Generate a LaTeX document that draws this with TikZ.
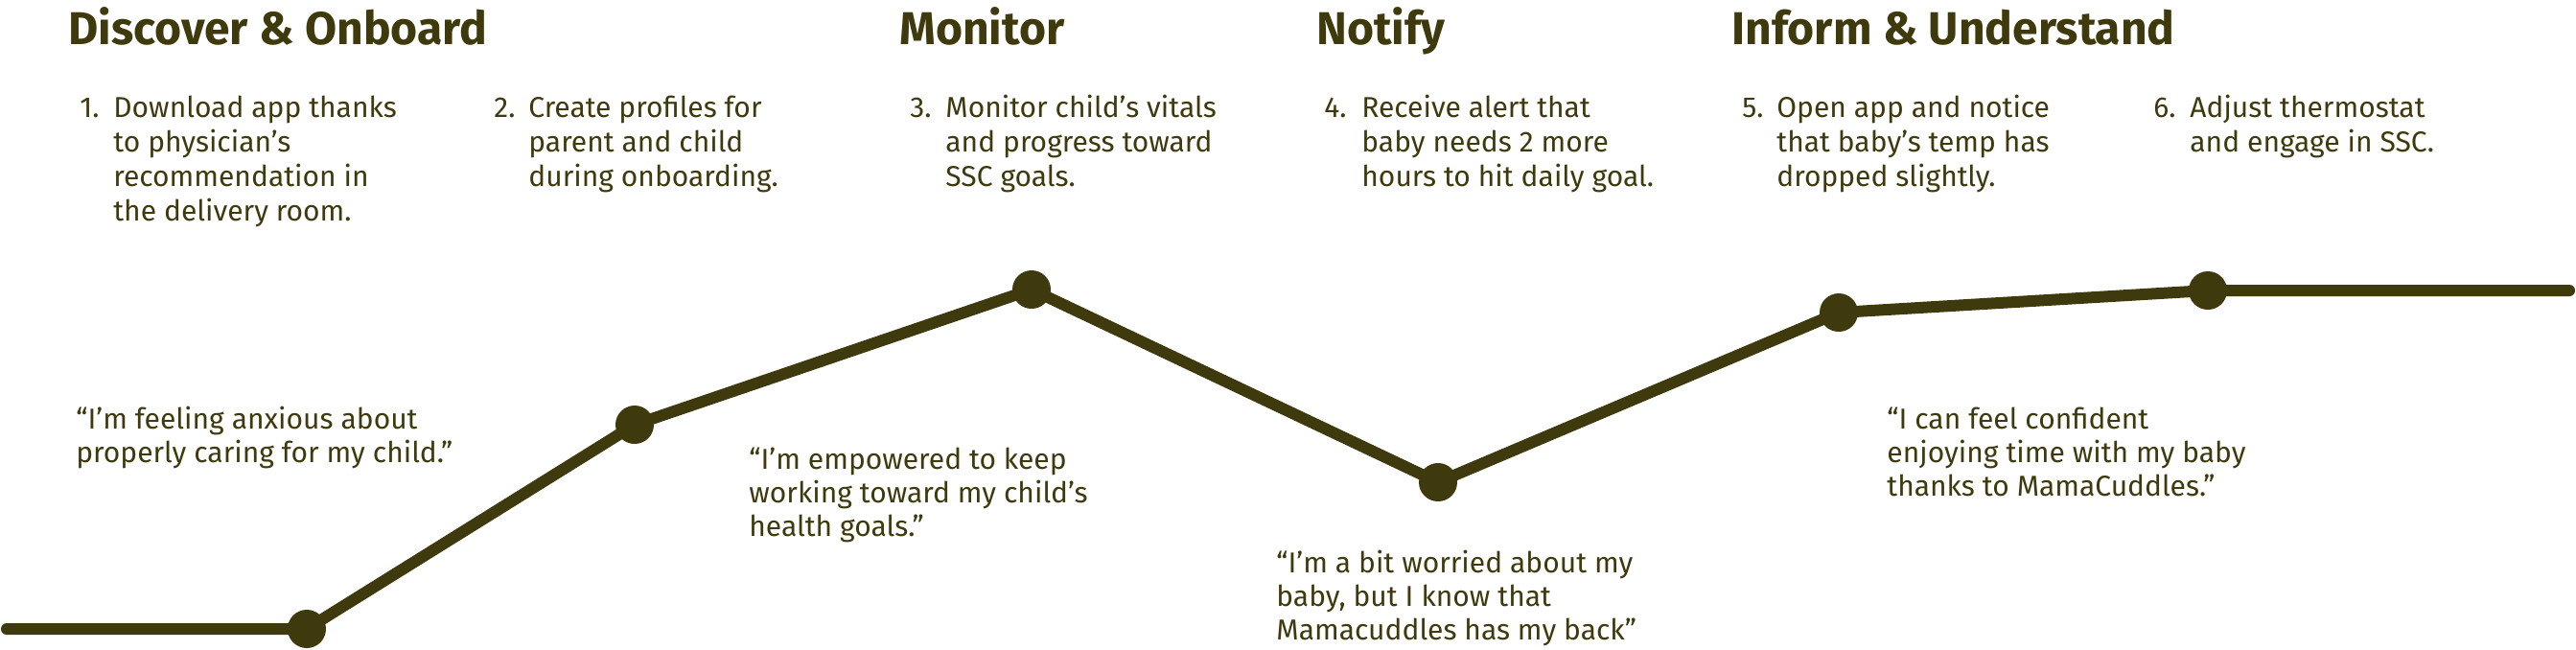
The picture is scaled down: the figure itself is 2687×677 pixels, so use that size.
\documentclass[tikz,border=0pt]{standalone}
\usepackage{fontspec}
\setmainfont{Fira Sans}
\definecolor{journey}{RGB}{62,58,14}
\newcommand{\textlines}[1]{\begin{tabular}[t]{@{}l@{}}#1\end{tabular}}
\begin{document}
\begin{tikzpicture}[x=0.5pt,y=-0.5pt]
  \tikzset{ phase/.style={anchor=base west,inner sep=0pt,text=journey,font=\fontsize{24}{28}\selectfont\bfseries},
    task/.style={anchor=base west,inner sep=0pt,text=journey,font=\fontsize{15}{18}\selectfont},
    num/.style={anchor=base west,inner sep=0pt,text=journey,font=\fontsize{15}{18}\selectfont},
    quote/.style={anchor=base west,inner sep=0pt,text=journey,font=\fontsize{15}{17.7}\selectfont},
    dot/.style={circle,fill=journey,inner sep=0pt,minimum size=20pt},
  }
  \useasboundingbox (0,0) rectangle (2687,677);

  % the phases
  \node[phase] (p1) at (71, 46) {Discover \& Onboard};
  \node[phase] (p2) at (938, 46) {Monitor};
  \node[phase] (p3) at (1373, 46) {Notify};
  \node[phase] (p4) at (1806, 46) {Inform \& Understand};

  % the steps
  \node[num] (n1) at (83, 122) {1.};
  \node[task] (t1) at (118, 122) {\textlines{Download app thanks\\to physician’s\\recommendation in\\the delivery room.}};
  \node[num] (n2) at (515, 122) {2.};
  \node[task] (t2) at (551, 122) {\textlines{Create profiles for\\parent and child\\during onboarding.}};
  \node[num] (n3) at (949, 122) {3.};
  \node[task] (t3) at (986, 122) {\textlines{Monitor child’s vitals\\and progress toward\\SSC goals.}};
  \node[num] (n4) at (1381, 122) {4.};
  \node[task] (t4) at (1420, 122) {\textlines{Receive alert that\\baby needs 2 more\\hours to hit daily goal.}};
  \node[num] (n5) at (1817, 122) {5.};
  \node[task] (t5) at (1853, 122) {\textlines{Open app and notice\\that baby’s temp has\\dropped slightly.}};
  \node[num] (n6) at (2246, 122) {6.};
  \node[task] (t6) at (2284, 122) {\textlines{Adjust thermostat\\and engage in SSC.}};

  % what the parent feels
  \node[quote] (q1) at (79, 447) {\textlines{“I’m feeling anxious about\\properly caring for my child.”}};
  \node[quote] (q2) at (781, 489) {\textlines{“I’m empowered to keep\\working toward my child’s\\health goals.”}};
  \node[quote] (q3) at (1331, 597) {\textlines{“I’m a bit worried about my\\baby, but I know that\\Mamacuddles has my back”}};
  \node[quote] (q4) at (1968, 447) {\textlines{“I can feel confident\\enjoying time with my baby\\thanks to MamaCuddles.”}};

  % the journey line
  \coordinate (a) at (7, 656);
  \coordinate (b) at (2680, 303);
  \node[dot] (1) at (320, 656) {};
  \node[dot] (2) at (662, 443) {};
  \node[dot] (3) at (1076, 302) {};
  \node[dot] (4) at (1500, 503) {};
  \node[dot] (5) at (1918, 326) {};
  \node[dot] (6) at (2303, 303) {};
  \draw[journey,line width=6pt,line cap=round,line join=round]
    (a) -- (1.center) -- (2.center) -- (3.center) -- (4.center) -- (5.center) -- (6.center) -- (b);
\end{tikzpicture}
\end{document}
